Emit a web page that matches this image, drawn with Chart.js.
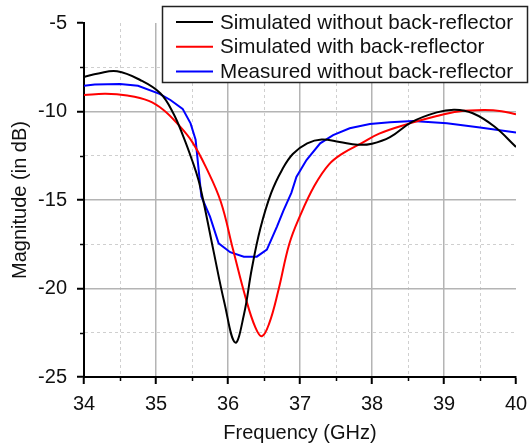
<!DOCTYPE html>
<html>
<head>
<meta charset="utf-8">
<script src="https://cdn.jsdelivr.net/npm/chart.js@4/dist/chart.umd.min.js"></script>
<style>
html,body{margin:0;padding:0;background:#fff;}
canvas{display:block;}
</style>
</head>
<body>
<canvas id="c" width="530" height="446"></canvas>
<script>
// ---- Data ----
const seriesLabels = ["Simulated without back-reflector", "Simulated with back-reflector", "Measured without back-reflector"];

const blackFreq = [34.0, 34.2, 34.46, 34.78, 35.06, 35.24, 35.38, 35.5, 35.59, 35.67, 35.8, 35.95, 36.1, 36.22, 36.33, 36.45, 36.6, 36.75, 36.9, 37.1, 37.3, 37.55, 37.8, 38.0, 38.25, 38.55, 38.9, 39.15, 39.4, 39.7, 40.0];
const blackMag  = [-8.05, -7.85, -7.73, -8.22, -8.97, -10.1, -11.42, -12.74, -13.87, -15.3, -17.9, -20.8, -23.05, -21.5, -18.9, -16.6, -14.6, -13.3, -12.4, -11.8, -11.58, -11.72, -11.88, -11.82, -11.45, -10.6, -10.05, -9.9, -10.1, -10.85, -12.0];

const redFreq = [34.0, 34.3, 34.6, 34.9, 35.1, 35.3, 35.5, 35.7, 35.9, 36.07, 36.25, 36.38, 36.47, 36.57, 36.7, 36.85, 37.0, 37.2, 37.4, 37.6, 37.85, 38.1, 38.5, 38.9, 39.2, 39.55, 39.8, 40.0];
const redMag  = [-9.07, -9.0, -9.1, -9.4, -9.9, -10.7, -11.7, -13.2, -15.1, -17.8, -20.6, -22.2, -22.7, -22.0, -20.1, -17.5, -15.9, -14.2, -13.0, -12.35, -11.8, -11.25, -10.7, -10.25, -10.0, -9.92, -9.98, -10.15];

const blueFreq = [34.0, 34.15, 34.5, 34.75, 35.05, 35.2, 35.37, 35.48, 35.55, 35.63, 35.75, 35.87, 36.03, 36.22, 36.4, 36.54, 36.68, 36.77, 36.88, 36.95, 37.09, 37.28, 37.46, 37.69, 37.97, 38.25, 38.57, 39.04, 39.5, 40.0];
const blueMag  = [-8.55, -8.47, -8.45, -8.55, -9.0, -9.35, -9.85, -10.67, -11.6, -14.8, -15.94, -17.45, -17.95, -18.2, -18.2, -17.8, -16.5, -15.6, -14.6, -13.7, -12.74, -11.8, -11.33, -10.95, -10.71, -10.61, -10.54, -10.67, -10.9, -11.18];

const xMin = 34, xMax = 40, xStep = 0.5;
const yMin = -25, yMax = -5, yStep = 2.5;
const xTitle = "Frequency (GHz)";
const yTitle = "Magnitude (in dB)";

const toPts = (xs, ys) => xs.map((x, i) => ({x: x, y: ys[i]}));

const FONT = "Arial, 'Liberation Sans', sans-serif";
const TXT = '#111';

const isMajorX = v => Math.abs(v - Math.round(v)) < 1e-6;
const isMajorY = v => Math.abs(v / 5 - Math.round(v / 5)) < 1e-6;

function gridColor(isMajor, maxV) {
  return ctx => {
    if (!ctx.tick) return 'rgba(0,0,0,0)';
    const v = ctx.tick.value;
    if (Math.abs(v - maxV) < 1e-6) return 'rgba(0,0,0,0)';
    return isMajor(v) ? '#b4b4b4' : '#cfcfcf';
  };
}
function gridWidth(isMajor) {
  return ctx => (ctx.tick && isMajor(ctx.tick.value)) ? 1.5 : 1;
}
function gridDash(isMajor) {
  return ctx => (ctx.tick && !isMajor(ctx.tick.value)) ? [3, 3] : [];
}
function tickColor(isMajor) {
  return ctx => (ctx.tick && isMajor(ctx.tick.value)) ? '#000' : 'rgba(0,0,0,0)';
}

const minorTicks = {
  id: 'minorTicks',
  afterDatasetsDraw(chart) {
    const c = chart.ctx, xs = chart.scales.x, ys = chart.scales.y;
    const area = chart.chartArea;
    c.save();
    c.strokeStyle = '#000';
    c.lineWidth = 1.5;
    xs.ticks.forEach(t => {
      if (isMajorX(t.value)) return;
      const px = Math.round(xs.getPixelForValue(t.value)) + 0.5;
      c.beginPath(); c.moveTo(px, area.bottom); c.lineTo(px, area.bottom + 4); c.stroke();
    });
    ys.ticks.forEach(t => {
      if (isMajorY(t.value)) return;
      const py = Math.round(ys.getPixelForValue(t.value)) + 0.5;
      c.beginPath(); c.moveTo(area.left, py); c.lineTo(area.left - 4, py); c.stroke();
    });
    c.restore();
  }
};

const boxLegend = {
  id: 'boxLegend',
  afterDraw(chart) {
    const c = chart.ctx;
    const bx = 162.5, by = 6.5, bw = 365, bh = 76;
    c.save();
    c.fillStyle = '#fff';
    c.fillRect(bx, by, bw, bh);
    c.strokeStyle = '#222';
    c.lineWidth = 1.5;
    c.strokeRect(bx, by, bw, bh);
    c.font = '20.6px ' + FONT;
    c.textBaseline = 'middle';
    c.textAlign = 'left';
    chart.data.datasets.forEach((ds, i) => {
      const y = 22 + i * 24.7;
      c.strokeStyle = ds.borderColor;
      c.lineWidth = 2;
      c.beginPath(); c.moveTo(176, y); c.lineTo(213, y); c.stroke();
      c.fillStyle = TXT;
      c.fillText(ds.label, 220, y + 1);
    });
    c.restore();
  }
};

new Chart(document.getElementById('c'), {
  type: 'line',
  data: {
    datasets: [
      {label: seriesLabels[0], data: toPts(blackFreq, blackMag), borderColor: '#000000', borderWidth: 2, pointRadius: 0, tension: 0.4, fill: false},
      {label: seriesLabels[1], data: toPts(redFreq, redMag), borderColor: '#ff0000', borderWidth: 2, pointRadius: 0, tension: 0.4, fill: false},
      {label: seriesLabels[2], data: toPts(blueFreq, blueMag), borderColor: '#0000ff', borderWidth: 2, pointRadius: 0, tension: 0, fill: false}
    ]
  },
  options: {
    responsive: false,
    animation: false,
    devicePixelRatio: 1,
    layout: {padding: {left: 0, right: 14, top: 23, bottom: 0}},
    plugins: {legend: {display: false}, tooltip: {enabled: false}},
    scales: {
      x: {
        type: 'linear', min: xMin, max: xMax,
        afterFit: s => { s.height = 69; s.paddingLeft = 0; s.paddingRight = 0; },
        ticks: {
          stepSize: xStep, autoSkip: false, maxRotation: 0, padding: 8,
          color: TXT, font: {family: FONT, size: 20},
          callback: v => isMajorX(v) ? String(Math.round(v)) : ''
        },
        grid: {color: gridColor(isMajorX, xMax), lineWidth: gridWidth(isMajorX), tickLength: 7, tickColor: tickColor(isMajorX), tickWidth: 2},
        border: {display: true, color: '#000', width: 2, dash: gridDash(isMajorX)},
        title: {display: true, text: xTitle, color: TXT, font: {family: FONT, size: 20}, padding: {top: 0, bottom: 1}}
      },
      y: {
        type: 'linear', min: yMin, max: yMax,
        afterFit: s => { s.width = 84; s.paddingTop = 0; s.paddingBottom = 0; },
        ticks: {
          stepSize: yStep, autoSkip: false, padding: 10,
          color: TXT, font: {family: FONT, size: 20},
          callback: v => isMajorY(v) ? String(v) : ''
        },
        grid: {color: gridColor(isMajorY, yMax), lineWidth: gridWidth(isMajorY), tickLength: 7, tickColor: tickColor(isMajorY), tickWidth: 2},
        border: {display: true, color: '#000', width: 2, dash: gridDash(isMajorY)},
        title: {display: true, text: yTitle, color: TXT, font: {family: FONT, size: 20}, padding: {top: 8, bottom: 0}}
      }
    }
  },
  plugins: [minorTicks, boxLegend]
});
</script>
</body>
</html>
